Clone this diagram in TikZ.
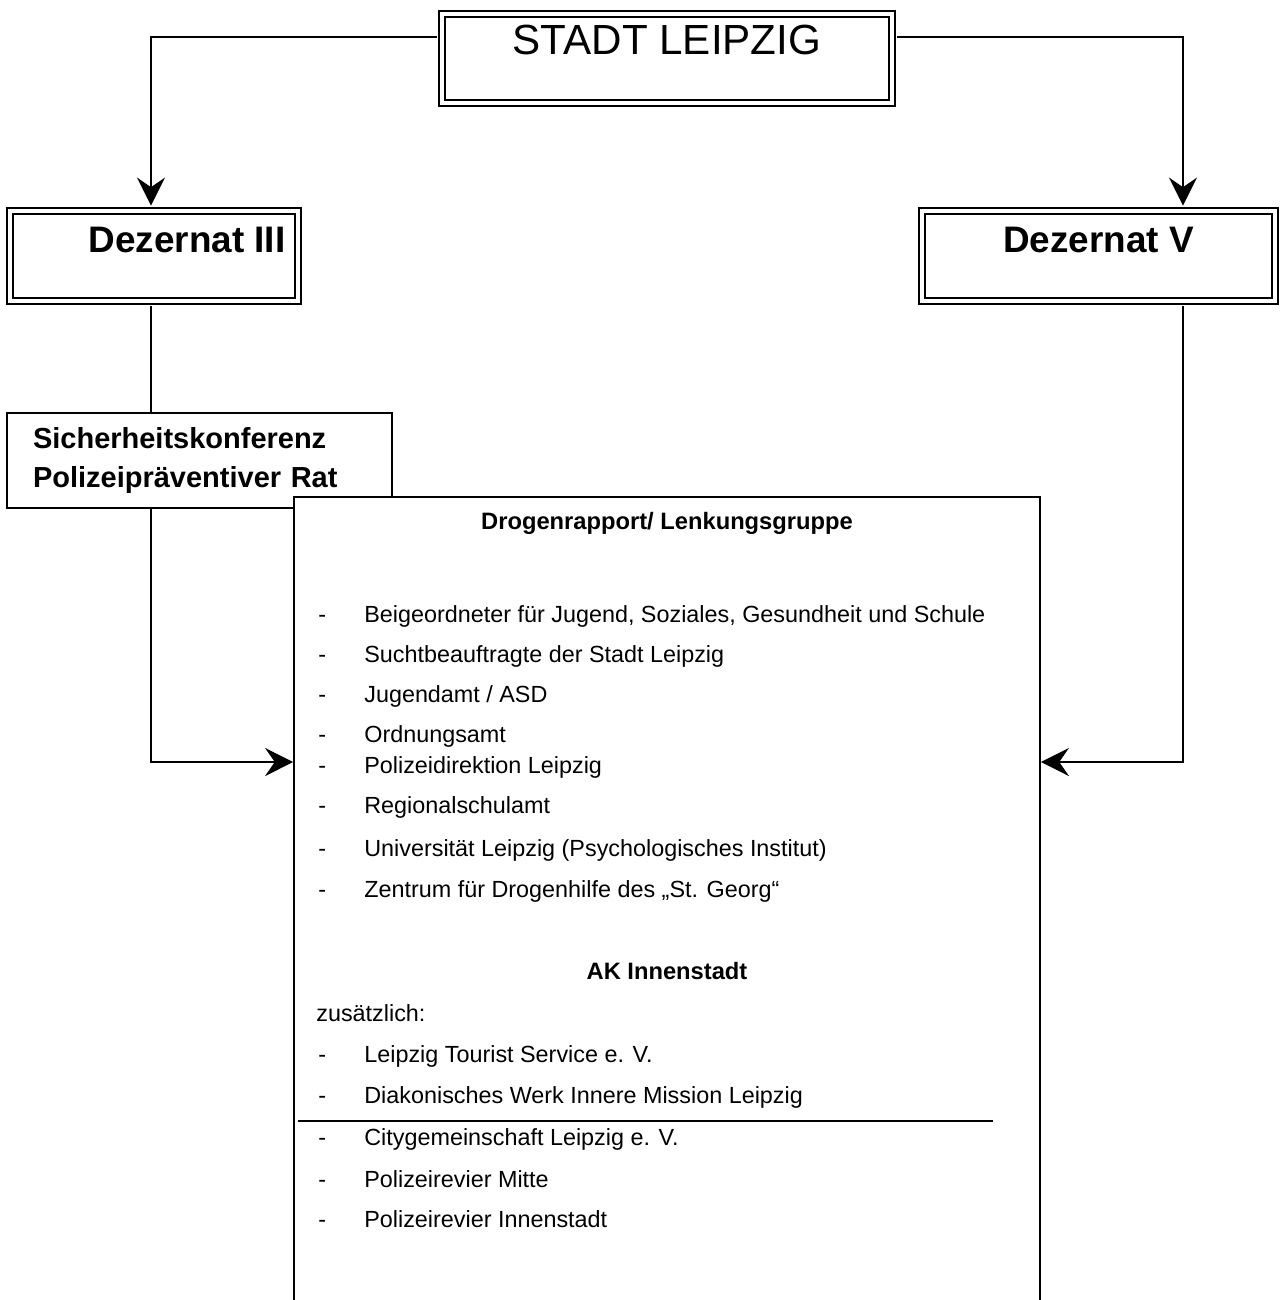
\documentclass[tikz,border=0pt]{standalone}
\usepackage{fontspec}
\setmainfont{Liberation Sans}
\usetikzlibrary{arrows.meta}
\newcommand{\strich}{\makebox[0.92cm][l]{-}}
\tikzset{doppelbox/.style = {draw, double, double distance=2.2pt, line width=1.1pt, inner sep=0pt},
         einfachbox/.style = {draw, line width=1pt},
         pfeil/.style = {line width=1pt, -{Stealth[length=16pt, width=16pt, inset=5.5pt]}},
         linie/.style = {line width=1pt},
         eintrag/.style = {anchor=base west, inner sep=0pt, font=\fontsize{13.3}{15}\selectfont},
         titel/.style = {anchor=base, inner sep=0pt, font=\fontsize{13.5}{16}\selectfont\bfseries}}

\begin{document}
\begin{tikzpicture}[x=0.02cm, y=-0.02cm]
    \useasboundingbox (0,0) rectangle (1279,1300);
    \clip (0,0) rectangle (1279,1300);
    % Kopf und Dezernate
    \node [doppelbox, minimum width=9cm, text height=0.82cm, text depth=0.96cm,
           font=\fontsize{24}{28}\selectfont] (stadt) at (667,58.5) {STADT LEIPZIG};
    \node [doppelbox, minimum width=5.76cm, text height=0.84cm, text depth=0.96cm,
           font=\fontsize{21}{25}\selectfont\bfseries] (dez3) at (154,256) {\hspace*{1.32cm}Dezernat III};
    \node [doppelbox, minimum width=7.06cm, text height=0.84cm, text depth=0.96cm,
           font=\fontsize{21}{25}\selectfont\bfseries] (dez5) at (1098.5,256) {Dezernat V};
    \node [einfachbox, minimum width=7.7cm, minimum height=1.9cm, text width=6.66cm,
           inner xsep=0.52cm, inner ysep=0pt, align=left,
           font=\fontsize{16.5}{22.7}\selectfont\bfseries] (sicher) at (199.5,460.5)
           {Sicherheitskonferenz\\Polizeipräventiver Rat};
    \node [einfachbox, fill=white, anchor=north, minimum width=14.92cm, minimum height=17cm] (drogen) at (667,496) {};
    \coordinate (einL) at (drogen.north west |- 0,762);
    \coordinate (einR) at (drogen.north east |- 0,762);

    % Verbindungen
    \draw [pfeil, shorten <=2.4pt, shorten >=2.5pt] ([yshift=0.43cm]stadt.west) -| ([xshift=-0.06cm]dez3.north);
    \draw [pfeil, shorten <=2.4pt, shorten >=2.5pt] ([yshift=0.43cm]stadt.east) -| ([xshift=1.69cm]dez5.north);
    \draw [linie, shorten <=2.4pt] ([xshift=-0.06cm]dez3.south) -- ([xshift=-0.06cm]dez3.south |- sicher.north);
    \draw [pfeil] ([xshift=-0.06cm]dez3.south |- sicher.south) |- (einL);
    \draw [pfeil, shorten <=2.4pt] ([xshift=1.69cm]dez5.south) |- (einR);

    % Drogenrapport
    \node [titel] (rapport) at (drogen.north |- 0,529) {Drogenrapport/ Lenkungsgruppe};
    \node [eintrag] (m1) at (318,622) {\strich Beigeordneter für Jugend, Soziales, Gesundheit und Schule};
    \node [eintrag] (m2) at (318,662) {\strich Suchtbeauftragte der Stadt Leipzig};
    \node [eintrag] (m3) at (318,702) {\strich Jugendamt / ASD};
    \node [eintrag] (m4) at (318,742) {\strich Ordnungsamt};
    \node [eintrag] (m5) at (318,773) {\strich Polizeidirektion Leipzig};
    \node [eintrag] (m6) at (318,813) {\strich Regionalschulamt};
    \node [eintrag] (m7) at (318,856) {\strich Universität Leipzig (Psychologisches Institut)};
    \node [eintrag] (m8) at (318,897) {\strich Zentrum für Drogenhilfe des „St. Georg“};

    % AK Innenstadt
    \node [titel] (ak) at (drogen.north |- 0,979) {AK Innenstadt};
    \node [eintrag] (zus) at (316,1021) {zusätzlich:};
    \node [eintrag] (z1) at (318,1062) {\strich Leipzig Tourist Service e. V.};
    \node [eintrag] (z2) at (318,1103) {\strich Diakonisches Werk Innere Mission Leipzig};
    \draw [linie] (298,1121) -- (993,1121);
    \node [eintrag] (z3) at (318,1145) {\strich Citygemeinschaft Leipzig e. V.};
    \node [eintrag] (z4) at (318,1187) {\strich Polizeirevier Mitte};
    \node [eintrag] (z5) at (318,1227) {\strich Polizeirevier Innenstadt};
\end{tikzpicture}
\end{document}
